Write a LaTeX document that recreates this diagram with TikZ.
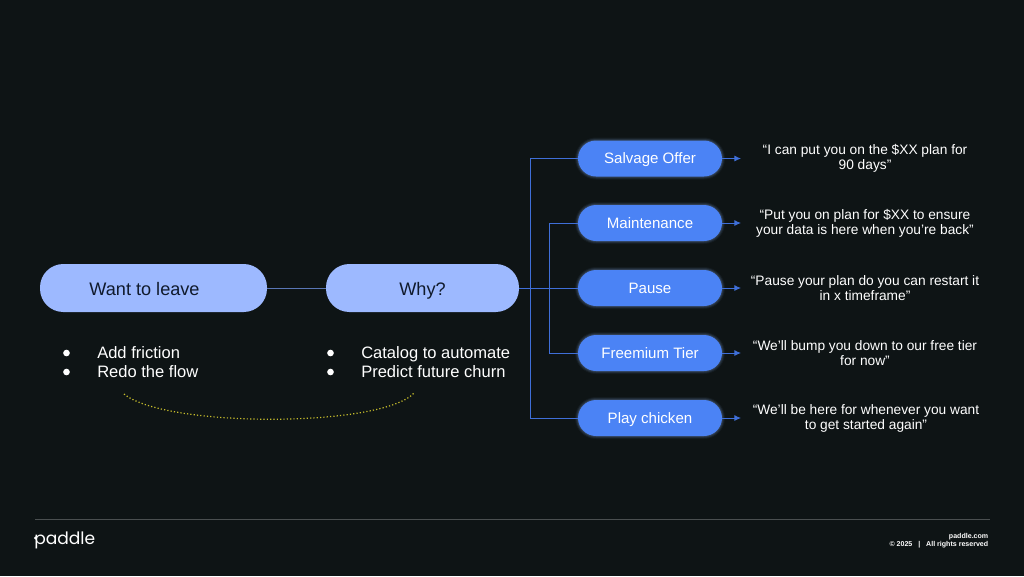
\documentclass[tikz,border=0pt]{standalone}
\usepackage{fontspec}
\setmainfont{Liberation Sans}
\newfontfamily\logofont{Poppins}
\usetikzlibrary{arrows.meta,calc}
\definecolor{bgc}{HTML}{0E1415}
\definecolor{pale}{HTML}{9DB9FF}
\definecolor{blu}{HTML}{4B83F5}
\definecolor{lin}{HTML}{3F6FD8}
\definecolor{ink}{HTML}{101A2C}
\definecolor{dots}{HTML}{C8BE2C}
\definecolor{rulec}{HTML}{4A4F50}
\tikzset{
 x=0.75pt,y=-0.75pt,
 bigpill/.style={rounded corners=17.5pt,fill=pale,text=ink,font=\fontsize{13.6}{16}\selectfont,inner sep=0pt,text height=12pt,text depth=1pt},
 smallpill/.style={rounded corners=13.5pt,fill=blu,text=white,font=\fontsize{11.3}{13}\selectfont,inner sep=0pt,minimum width=108pt,minimum height=27pt,text height=9.2pt,text depth=1pt,
   preaction={draw=blu!60!white,draw opacity=.05,line width=4.5pt},
   preaction={draw=blu!60!white,draw opacity=.10,line width=3pt},
   preaction={draw=blu!60!white,draw opacity=.14,line width=1.5pt}},
 conn/.style={draw=lin,line width=.7pt},
 arr/.style={draw=lin,line width=.7pt,-{Latex[length=5pt,width=4.5pt]}},
 quote/.style={text=white,align=center,font=\fontsize{10.3}{11.3}\selectfont,inner sep=0pt},
 item/.style={text=white,anchor=base west,font=\fontsize{12.4}{14}\selectfont,inner sep=0pt},
 dotb/.style={circle,fill=white,inner sep=0pt,minimum size=5pt},
}
\begin{document}
\begin{tikzpicture}
\useasboundingbox (0,0) rectangle (1024,576);
\fill[bgc] (0,0) rectangle (1024,576);

\node[bigpill,minimum width=170.25pt,minimum height=36pt] (want) at (153.5,288) {};
\node[text=ink,font=\fontsize{13.6}{16}\selectfont,inner sep=0pt,text height=12pt,text depth=1pt] (wantt) at (144.5,288) {Want to leave};
\node[bigpill,minimum width=144.75pt,minimum height=36pt] (why) at (422.5,288) {Why?};

\coordinate (b1) at (530,288);
\coordinate (b2) at (549,288);
\node[smallpill] (s1) at (650,158.5) {Salvage Offer};
\node[smallpill] (s2) at (650,223) {Maintenance};
\node[smallpill] (s3) at (650,288) {Pause};
\node[smallpill] (s4) at (650,353) {Freemium Tier};
\node[smallpill] (s5) at (650,418) {Play chicken};

\draw[conn,draw=lin!60!gray] (want) -- (why);
\draw[conn] (why) -- (s3);
\draw[conn] (b1) |- (s1);
\draw[conn] (b1) |- (s5);
\draw[conn] (b2) |- (s2);
\draw[conn] (b2) |- (s4);

\node[quote] (q1) at (865,158) {“I can put you on the \$XX plan for\\90 days”};
\node[quote] (q2) at (865,223) {“Put you on plan for \$XX to ensure\\your data is here when you’re back”};
\node[quote] (q3) at (865,288) {“Pause your plan do you can restart it\\in x timeframe”};
\node[quote] (q4) at (865,353) {“We’ll bump you down to our free tier\\for now”};
\node[quote] (q5) at (866,418) {“We’ll be here for whenever you want\\to get started again”};

\foreach \i/\yy in {1/158.5,2/223,3/288,4/353,5/418}{
  \coordinate (e\i) at (741,\yy);
  \draw[arr] (s\i.east) -- (e\i);
}

\node[dotb] (d1) at (66.5,353) {};
\node[dotb] (d2) at (66.5,372) {};
\node[item] (i1) at (97,358) {Add friction};
\node[item] (i2) at (97,377) {Redo the flow};
\node[dotb] (d3) at (330.5,353) {};
\node[dotb] (d4) at (330.5,372) {};
\node[item] (i3) at (361,358) {Catalog to automate};
\node[item] (i4) at (361,377) {Predict future churn};

\coordinate (ca) at (124,394);
\coordinate (cb) at (415,392);
\draw[dots,line width=.9pt,dash pattern=on .9pt off 1.6pt] (ca) .. controls (165,428) and (385,428) .. (cb);

\coordinate (r1) at (35,519);
\coordinate (r2) at (990,519);
\draw[rulec,line width=.75pt] (r1) -- (r2);

\node[text=white,anchor=base west,inner sep=0pt,font=\logofont\fontsize{12.8}{16}\selectfont] (logo) at (34,544) {paddle};
\fill[white] (35.5,538) circle (1.6);
\node[text=white,anchor=base east,inner sep=0pt,font=\bfseries\fontsize{5.3}{6}\selectfont] (f1) at (988.5,538) {paddle.com};
\node[text=white,anchor=base east,inner sep=0pt,font=\bfseries\fontsize{5.3}{6}\selectfont] (f2) at (988.5,546.5) {© 2025 \ \ | \ \ All rights reserved};
\end{tikzpicture}
\end{document}
